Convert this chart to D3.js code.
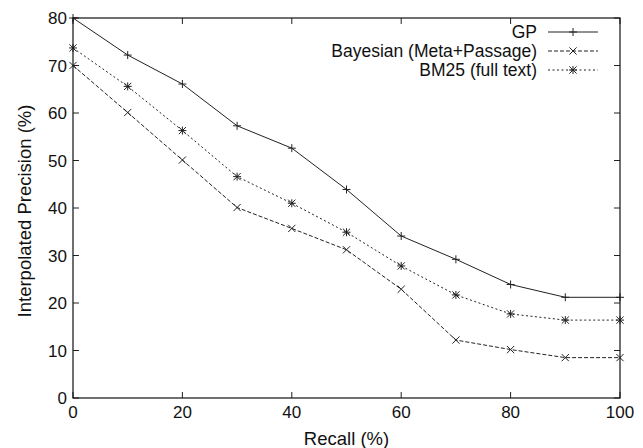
<!DOCTYPE html>
<html>
<head>
  <meta charset="utf-8"/>
  <title>Interpolated precision</title>
  <style type="text/css">
    body { margin:0; padding:0; background-color:white; }
    text { font-family: "Liberation Sans", Arial, sans-serif; fill:#111; }
  </style>
  <script src="https://cdn.jsdelivr.net/npm/d3@7/dist/d3.min.js" charset="utf-8"></script>
</head>
<body>
<script type="text/javascript">

  // DATA
  var recall = [0, 10, 20, 30, 40, 50, 60, 70, 80, 90, 100];
  var gpValues = [80, 72.2, 66.1, 57.3, 52.6, 43.9, 34.1, 29.2, 23.9, 21.2, 21.2];
  var bayesValues = [70, 60.1, 50.1, 40.1, 35.7, 31.2, 22.9, 12.2, 10.2, 8.5, 8.5];
  var bm25Values = [73.7, 65.6, 56.3, 46.6, 41.0, 34.9, 27.8, 21.7, 17.7, 16.4, 16.4];
  var seriesNames = ["GP", "Bayesian (Meta+Passage)", "BM25 (full text)"];
  var xTicks = [0, 20, 40, 60, 80, 100];
  var yTicks = [0, 10, 20, 30, 40, 50, 60, 70, 80];

  var w = 643, h = 448;
  var plotLeft = 73, plotRight = 620, plotTop = 18, plotBottom = 398;

  var svg = d3.select("body").append("svg")
              .attr("width", w)
              .attr("height", h);

  var x = d3.scaleLinear().domain([0, 100]).range([plotLeft, plotRight]);
  var y = d3.scaleLinear().domain([0, 80]).range([plotBottom, plotTop]);

  // ticks on all four sides, pointing inward (gnuplot style)
  var tickLen = 6;
  var ticks = svg.append("g").attr("stroke", "#222").attr("stroke-width", 1);
  yTicks.forEach(function(v) {
    ticks.append("line").attr("x1", plotLeft).attr("x2", plotLeft + tickLen).attr("y1", y(v)).attr("y2", y(v));
    ticks.append("line").attr("x1", plotRight).attr("x2", plotRight - tickLen).attr("y1", y(v)).attr("y2", y(v));
  });
  xTicks.forEach(function(v) {
    ticks.append("line").attr("x1", x(v)).attr("x2", x(v)).attr("y1", plotBottom).attr("y2", plotBottom - tickLen);
    ticks.append("line").attr("x1", x(v)).attr("x2", x(v)).attr("y1", plotTop).attr("y2", plotTop + tickLen);
  });

  // tick labels
  svg.append("g").selectAll("text").data(yTicks).enter().append("text")
     .attr("x", plotLeft - 6)
     .attr("y", function(d) { return y(d); })
     .attr("dy", "0.36em")
     .attr("text-anchor", "end")
     .style("font-size", "17px")
     .text(function(d) { return d; });

  svg.append("g").selectAll("text").data(xTicks).enter().append("text")
     .attr("x", function(d) { return x(d); })
     .attr("y", 418)
     .attr("text-anchor", "middle")
     .style("font-size", "17px")
     .text(function(d) { return d; });

  // axis titles
  svg.append("text")
     .attr("x", (plotLeft + plotRight) / 2)
     .attr("y", 445)
     .attr("text-anchor", "middle")
     .style("font-size", "18.5px")
     .text("Recall (%)");

  svg.append("text")
     .attr("transform", "translate(31,211) rotate(-90)")
     .attr("text-anchor", "middle")
     .style("font-size", "18.5px")
     .text("Interpolated Precision (%)");

  // series
  var series = [
    { name: seriesNames[0], values: gpValues, dash: null, marker: "plus" },
    { name: seriesNames[1], values: bayesValues, dash: "4,2", marker: "cross" },
    { name: seriesNames[2], values: bm25Values, dash: "2,2.5", marker: "star" }
  ];

  var line = d3.line()
               .x(function(d, i) { return x(recall[i]); })
               .y(function(d) { return y(d); });

  function drawMarker(g, type, cx, cy) {
    var s = 4;
    var m = g.append("g").attr("stroke", "#222").attr("stroke-width", 1).attr("fill", "none");
    if (type === "plus" || type === "star") {
      m.append("line").attr("x1", cx - s).attr("x2", cx + s).attr("y1", cy).attr("y2", cy);
      m.append("line").attr("x1", cx).attr("x2", cx).attr("y1", cy - s).attr("y2", cy + s);
    }
    if (type === "cross" || type === "star") {
      var c = s * 0.9;
      m.append("line").attr("x1", cx - c).attr("x2", cx + c).attr("y1", cy - c).attr("y2", cy + c);
      m.append("line").attr("x1", cx - c).attr("x2", cx + c).attr("y1", cy + c).attr("y2", cy - c);
    }
  }

  var plotGroup = svg.append("g");
  series.forEach(function(s) {
    plotGroup.append("path")
             .attr("d", line(s.values))
             .attr("fill", "none")
             .attr("stroke", "#222")
             .attr("stroke-width", 1)
             .attr("stroke-dasharray", s.dash);
    s.values.forEach(function(v, i) {
      drawMarker(plotGroup, s.marker, x(recall[i]), y(v));
    });
  });

  // legend
  var legendY = [32, 51, 70];
  var legend = svg.append("g");
  series.forEach(function(s, i) {
    legend.append("text")
          .attr("x", 537)
          .attr("y", legendY[i])
          .attr("dy", "0.36em")
          .attr("text-anchor", "end")
          .style("font-size", "17.5px")
          .text(s.name);
    legend.append("line")
          .attr("x1", 548).attr("x2", 598)
          .attr("y1", legendY[i]).attr("y2", legendY[i])
          .attr("stroke", "#222")
          .attr("stroke-width", 1)
          .attr("stroke-dasharray", s.dash);
    drawMarker(legend, s.marker, 573, legendY[i]);
  });

  // frame
  svg.append("rect")
     .attr("x", plotLeft).attr("y", plotTop)
     .attr("width", plotRight - plotLeft).attr("height", plotBottom - plotTop)
     .attr("fill", "none")
     .attr("stroke", "#111")
     .attr("stroke-width", 1.2);

</script>
</body>
</html>
